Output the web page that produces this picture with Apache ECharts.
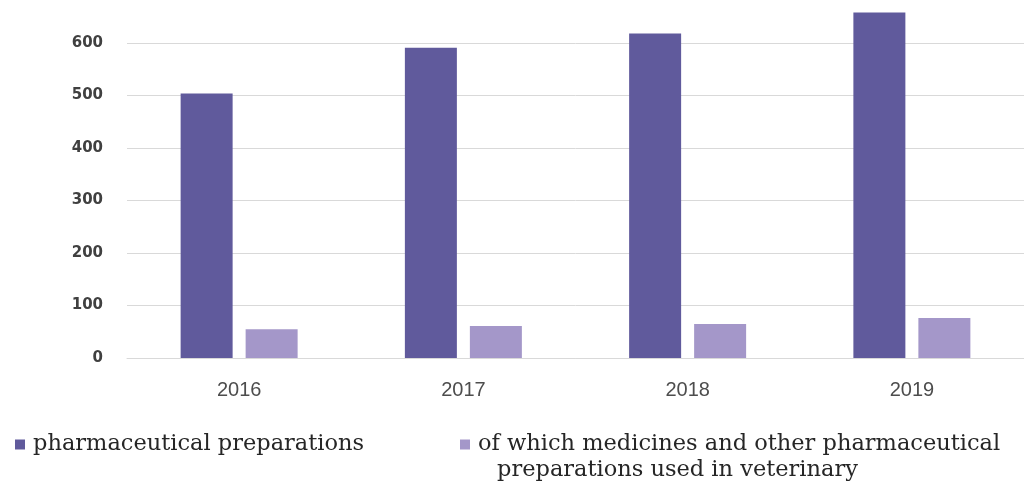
<!DOCTYPE html>
<html>
<head>
<meta charset="utf-8">
<script src="https://cdn.jsdelivr.net/npm/echarts@6/dist/echarts.min.js"></script>
<style>
html,body{margin:0;padding:0;background:#fff;}
#chart{width:1024px;height:486px;}
</style>
</head>
<body>
<div id="chart"></div>
<script>
const categories = ['2016', '2017', '2018', '2019'];
const seriesNames = [
  'pharmaceutical preparations',
  'of which medicines and other pharmaceutical preparations used in veterinary'
];
const pharmaPrep = [504, 591, 618, 658];
const vetPrep = [55, 61, 65, 76];
const legendLine1 = 'of which medicines and other pharmaceutical';
const legendLine2 = 'preparations used in veterinary';

const chart = echarts.init(document.getElementById('chart'));
const legendText = {
  fontFamily: 'DejaVu Serif',
  fontSize: 22.5,
  color: '#262626',
  padding: [0, 0, 0, 3]
};
chart.setOption({
  animation: false,
  backgroundColor: '#ffffff',
  grid: { left: 127, top: 43, width: 900, height: 315, containLabel: false },
  xAxis: {
    type: 'category',
    data: categories,
    axisLine: { show: true, lineStyle: { color: '#d9d9d9', width: 1 } },
    axisTick: { show: false },
    axisLabel: { color: '#4d4d4d', fontFamily: 'Liberation Sans', fontSize: 20, margin: 22 }
  },
  yAxis: {
    type: 'value',
    min: 0, max: 600, interval: 100,
    axisLine: { show: false },
    axisTick: { show: false },
    splitLine: { lineStyle: { color: '#d9d9d9', width: 1 } },
    axisLabel: { color: '#404040', fontFamily: 'DejaVu Sans', fontWeight: 'bold', fontSize: 15, margin: 24 }
  },
  legend: [
    {
      data: [seriesNames[0]], left: 10, top: 428,
      icon: 'rect', itemWidth: 10, itemHeight: 10,
      textStyle: legendText
    },
    {
      data: [seriesNames[1]], left: 455, top: 428,
      icon: 'rect', itemWidth: 10, itemHeight: 10,
      formatter: () => legendLine1,
      textStyle: legendText
    }
  ],
  graphic: [{
    type: 'text', left: 497, top: 459,
    style: { text: legendLine2, fontFamily: 'DejaVu Serif', fontSize: 22.5, fill: '#262626' }
  }],
  series: [
    {
      name: seriesNames[0], type: 'bar', data: pharmaPrep,
      barWidth: 52, barGap: '25%', clip: false,
      itemStyle: { color: '#605a9c' }
    },
    {
      name: seriesNames[1], type: 'bar', data: vetPrep,
      barWidth: 52, barGap: '25%', clip: false,
      itemStyle: { color: '#a497c9' }
    }
  ]
});
</script>
</body>
</html>
